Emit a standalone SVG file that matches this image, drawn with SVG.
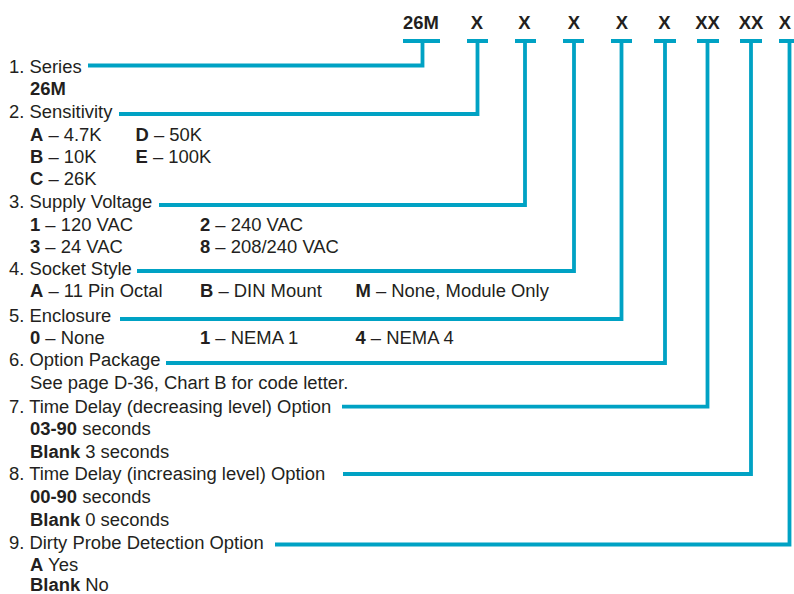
<svg xmlns="http://www.w3.org/2000/svg" width="794" height="594" viewBox="0 0 794 594">
<style>
text{font-family:"Liberation Sans",Arial,sans-serif;font-size:19.2px;fill:#231f20}
.b{font-weight:bold}
.h{font-weight:bold;text-anchor:middle}
.c{fill:none;stroke:#00a2c4;stroke-width:3.8;stroke-linecap:butt;stroke-linejoin:miter}
</style>
<rect width="794" height="594" fill="#fff"/>
<g id="header">
<text class="h" transform="translate(421 29) scale(.96 1)">26M</text>
<text class="h" transform="translate(477 29) scale(.96 1)">X</text>
<text class="h" transform="translate(524.5 29) scale(.96 1)">X</text>
<text class="h" transform="translate(574 29) scale(.96 1)">X</text>
<text class="h" transform="translate(622 29) scale(.96 1)">X</text>
<text class="h" transform="translate(664.5 29) scale(.96 1)">X</text>
<text class="h" transform="translate(707.5 29) scale(.96 1)">XX</text>
<text class="h" transform="translate(751 29) scale(.96 1)">XX</text>
<text class="h" transform="translate(785 29) scale(.96 1)">X</text>
</g>
<g id="connectors">
<path class="c" d="M403 41H440M88 65.5H422.5V41"/>
<path class="c" d="M467 41H488M119 114H477.5V41"/>
<path class="c" d="M515 41H536M159 205H525V41"/>
<path class="c" d="M563 41H584M137 271H574V41"/>
<path class="c" d="M611 41H632M120 319H621.5V41"/>
<path class="c" d="M654 41H676M166 363H665V41"/>
<path class="c" d="M697 41H719M342 406.7H707.5V41"/>
<path class="c" d="M740 41H762M343 474H751V41"/>
<path class="c" d="M779 41H800M275 544.5H789.5V41"/>
</g>
<g id="series">
<text transform="translate(9 72.5) scale(.96 1)">1. Series</text>
<text class="b" transform="translate(30 95) scale(.96 1)">26M</text>
</g>
<g id="sensitivity">
<text transform="translate(9 118) scale(.96 1)">2. Sensitivity</text>
<text transform="translate(30 140.5) scale(.96 1)"><tspan class="b">A</tspan> – 4.7K</text>
<text transform="translate(30 162.7) scale(.96 1)"><tspan class="b">B</tspan> – 10K</text>
<text transform="translate(30 185) scale(.96 1)"><tspan class="b">C</tspan> – 26K</text>
<text transform="translate(135.5 140.5) scale(.96 1)"><tspan class="b">D</tspan> – 50K</text>
<text transform="translate(135.5 162.7) scale(.96 1)"><tspan class="b">E</tspan> – 100K</text>
</g>
<g id="supply-voltage">
<text transform="translate(9 208.3) scale(.96 1)">3. Supply Voltage</text>
<text transform="translate(30 230.5) scale(.96 1)"><tspan class="b">1</tspan> – 120 VAC</text>
<text transform="translate(30 253) scale(.96 1)"><tspan class="b">3</tspan> – 24 VAC</text>
<text transform="translate(200 230.5) scale(.96 1)"><tspan class="b">2</tspan> – 240 VAC</text>
<text transform="translate(200 253) scale(.96 1)"><tspan class="b">8</tspan> – 208/240 VAC</text>
</g>
<g id="socket-style">
<text transform="translate(9 274.5) scale(.96 1)">4. Socket Style</text>
<text transform="translate(30 297) scale(.96 1)"><tspan class="b">A</tspan> – 11 Pin Octal</text>
<text transform="translate(200 297) scale(.96 1)"><tspan class="b">B</tspan> – DIN Mount</text>
<text transform="translate(355.5 297) scale(.96 1)"><tspan class="b">M</tspan> – None, Module Only</text>
</g>
<g id="enclosure">
<text transform="translate(9 321.5) scale(.96 1)">5. Enclosure</text>
<text transform="translate(30 344) scale(.96 1)"><tspan class="b">0</tspan> – None</text>
<text transform="translate(200 344) scale(.96 1)"><tspan class="b">1</tspan> – NEMA 1</text>
<text transform="translate(355.5 344) scale(.96 1)"><tspan class="b">4</tspan> – NEMA 4</text>
</g>
<g id="option-package">
<text transform="translate(9 366) scale(.96 1)">6. Option Package</text>
<text transform="translate(30 389) scale(.96 1)">See page D-36, Chart B for code letter.</text>
</g>
<g id="time-delay-decreasing">
<text transform="translate(9 412.5) scale(.96 1)">7. Time Delay (decreasing level) Option</text>
<text transform="translate(30 435) scale(.96 1)"><tspan class="b">03-90</tspan> seconds</text>
<text transform="translate(30 457.5) scale(.96 1)"><tspan class="b">Blank</tspan> 3 seconds</text>
</g>
<g id="time-delay-increasing">
<text transform="translate(9 480) scale(.96 1)">8. Time Delay (increasing level) Option</text>
<text transform="translate(30 503) scale(.96 1)"><tspan class="b">00-90</tspan> seconds</text>
<text transform="translate(30 525.5) scale(.96 1)"><tspan class="b">Blank</tspan> 0 seconds</text>
</g>
<g id="dirty-probe">
<text transform="translate(9 548.5) scale(.96 1)">9. Dirty Probe Detection Option</text>
<text transform="translate(30 570.5) scale(.96 1)"><tspan class="b">A</tspan> Yes</text>
<text transform="translate(30 590.5) scale(.96 1)"><tspan class="b">Blank</tspan> No</text>
</g>
</svg>
